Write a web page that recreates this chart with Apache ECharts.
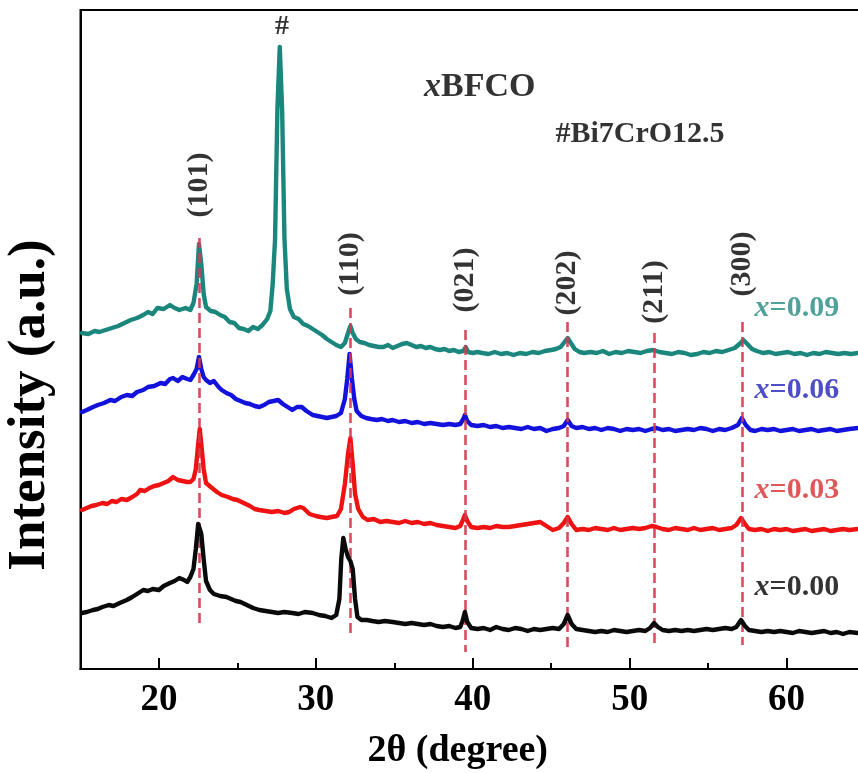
<!DOCTYPE html>
<html>
<head>
<meta charset="utf-8">
<script src="https://cdn.jsdelivr.net/npm/echarts@6/dist/echarts.min.js"></script>
<style>
html,body{margin:0;padding:0;background:#fff;}
#chart{width:858px;height:773px;}
</style>
</head>
<body>
<div id="chart"></div>
<script>
// ---- data: [2theta (degree), intensity (a.u., offset stacked)] ----
const sample009 = [[15.1,336],[15.5,335],[15.9,338],[16.2,337],[16.6,339],[17.0,341],[17.4,343],[17.8,346],[18.2,349],[18.6,351],[19.0,354],[19.3,357],[19.6,355],[19.9,361],[20.3,360],[20.7,364],[21.0,361],[21.3,359],[21.7,361],[22.0,359],[22.2,366],[22.4,385],[22.55,425],[22.7,405],[22.85,375],[23.0,362],[23.3,358],[23.6,357],[23.9,354],[24.2,352],[24.5,347],[24.8,346],[25.1,341],[25.4,340],[25.7,338],[26.0,342],[26.3,340],[26.6,344],[26.9,350],[27.1,358],[27.25,385],[27.4,430],[27.55,560],[27.7,622],[27.85,560],[28.0,430],[28.15,380],[28.35,360],[28.6,352],[28.9,350],[29.2,345],[29.5,343],[29.8,340],[30.1,337],[30.4,334],[30.7,330],[31.0,327],[31.3,324],[31.6,322],[31.85,326],[32.05,336],[32.2,343],[32.35,336],[32.55,330],[32.8,327],[33.1,326],[33.4,324],[33.7,323],[34.0,322],[34.3,322],[34.6,324],[34.9,321],[35.2,323],[35.5,325],[35.8,326],[36.1,324],[36.4,322],[36.7,323],[37.0,321],[37.3,322],[37.6,320],[37.9,319],[38.2,320],[38.5,318],[38.8,319],[39.1,317],[39.4,318],[39.55,322],[39.7,317],[40.0,316],[40.3,317],[40.6,316],[41.0,315],[41.4,317],[41.8,315],[42.2,316],[42.6,314],[43.0,316],[43.4,315],[43.8,317],[44.2,316],[44.6,318],[45.0,319],[45.3,320],[45.6,322],[45.85,327],[46.05,331],[46.25,326],[46.5,320],[46.8,317],[47.1,316],[47.5,317],[47.9,316],[48.3,318],[48.7,315],[49.1,317],[49.5,316],[49.9,318],[50.3,317],[50.7,316],[51.1,318],[51.5,319],[51.9,317],[52.3,316],[52.7,315],[53.1,317],[53.5,316],[53.9,314],[54.3,315],[54.7,317],[55.1,316],[55.5,318],[55.9,317],[56.3,319],[56.7,321],[57.0,325],[57.25,329],[57.5,325],[57.8,320],[58.1,318],[58.5,316],[58.9,317],[59.3,315],[59.7,316],[60.1,317],[60.5,315],[60.9,316],[61.3,314],[61.7,316],[62.1,315],[62.5,317],[62.9,316],[63.3,315],[63.7,316],[64.1,315],[64.6,316]];

const sample006 = [[15.1,257],[15.4,259],[15.8,262],[16.1,264],[16.5,266],[16.9,269],[17.2,268],[17.6,272],[17.95,274],[18.3,273],[18.6,277],[19.0,279],[19.3,282],[19.7,283],[20.1,286],[20.4,285],[20.7,290],[20.9,291],[21.2,288],[21.5,292],[21.8,290],[22.0,289],[22.2,294],[22.4,300],[22.55,312],[22.7,300],[22.85,292],[23.0,289],[23.25,286],[23.5,288],[23.8,282],[24.0,279],[24.3,276],[24.6,274],[24.9,270],[25.2,268],[25.5,266],[25.8,265],[26.1,263],[26.4,262],[26.7,264],[27.0,267],[27.3,268],[27.6,269],[27.9,265],[28.2,262],[28.5,259],[28.8,262],[29.1,262],[29.4,258],[29.8,254],[30.1,253],[30.4,252],[30.7,251],[31.0,252],[31.3,253],[31.6,256],[31.85,270],[32.0,290],[32.15,315],[32.3,290],[32.45,270],[32.6,258],[32.9,253],[33.2,251],[33.5,250],[33.9,249],[34.2,250],[34.6,248],[34.9,249],[35.3,247],[35.7,248],[36.1,246],[36.5,247],[36.9,245],[37.3,246],[37.7,245],[38.1,244],[38.5,245],[38.9,244],[39.2,245],[39.4,250],[39.5,254],[39.65,248],[39.9,244],[40.3,243],[40.7,244],[41.1,242],[41.5,243],[41.9,241],[42.3,242],[42.7,241],[43.1,240],[43.5,242],[43.9,240],[44.3,241],[44.7,238],[45.1,240],[45.5,241],[45.8,243],[46.05,249],[46.3,243],[46.6,241],[47.0,242],[47.4,240],[47.8,241],[48.2,239],[48.6,241],[49.0,240],[49.4,238],[49.8,240],[50.2,239],[50.6,240],[51.0,238],[51.4,240],[51.7,241],[52.1,239],[52.5,240],[52.9,238],[53.3,239],[53.7,240],[54.1,239],[54.5,241],[54.9,240],[55.3,238],[55.7,240],[56.1,239],[56.5,241],[56.9,244],[57.15,251],[57.4,244],[57.7,239],[58.0,238],[58.4,240],[58.8,239],[59.2,240],[59.6,238],[60.0,239],[60.4,240],[60.8,238],[61.2,239],[61.6,240],[62.0,238],[62.4,239],[62.8,240],[63.2,238],[63.6,239],[64.0,240],[64.6,241]];

const sample003 = [[15.1,159],[15.4,161],[15.7,163],[16.0,164],[16.4,166],[16.7,165],[17.0,168],[17.3,167],[17.6,170],[17.95,169],[18.3,172],[18.6,175],[18.8,179],[19.1,178],[19.4,181],[19.7,183],[20.0,184],[20.3,186],[20.6,188],[20.9,192],[21.2,189],[21.5,188],[21.8,187],[22.0,187],[22.2,190],[22.35,200],[22.5,225],[22.6,240],[22.7,225],[22.85,200],[23.0,186],[23.3,182],[23.7,177],[24.0,174],[24.4,172],[24.7,170],[25.0,169],[25.4,166],[25.8,163],[26.1,160],[26.4,159],[26.8,158],[27.2,157],[27.6,158],[28.0,156],[28.3,157],[28.6,160],[29.0,162],[29.2,161],[29.6,155],[30.0,153],[30.3,152],[30.7,151],[31.0,152],[31.35,153],[31.6,160],[31.85,185],[32.05,215],[32.2,231],[32.35,205],[32.5,175],[32.7,160],[33.0,152],[33.3,149],[33.7,150],[34.1,147],[34.5,148],[34.9,147],[35.3,146],[35.7,148],[36.1,146],[36.5,147],[36.9,145],[37.3,146],[37.7,144],[38.1,143],[38.5,142],[38.9,141],[39.2,143],[39.35,148],[39.5,154],[39.65,148],[39.9,142],[40.3,141],[40.7,142],[41.1,141],[41.5,143],[41.9,142],[42.3,142],[42.7,143],[43.1,144],[43.5,145],[43.9,146],[44.3,147],[44.7,143],[45.1,139],[45.5,141],[45.8,146],[46.05,152],[46.3,145],[46.6,139],[47.0,140],[47.4,139],[47.8,141],[48.2,140],[48.6,139],[49.0,141],[49.4,139],[49.8,140],[50.2,141],[50.6,140],[51.0,141],[51.4,143],[51.7,142],[52.1,140],[52.5,139],[52.9,141],[53.3,140],[53.7,139],[54.1,141],[54.5,139],[54.9,140],[55.3,141],[55.7,139],[56.1,140],[56.5,141],[56.8,144],[57.1,151],[57.35,145],[57.6,140],[58.0,139],[58.4,140],[58.8,138],[59.2,140],[59.6,139],[60.0,140],[60.4,138],[60.8,139],[61.2,140],[61.6,138],[62.0,139],[62.4,140],[62.8,138],[63.2,139],[63.6,140],[64.0,139],[64.6,140]];

const sample000 = [[15.1,56],[15.4,57],[15.8,59],[16.1,60],[16.4,62],[16.8,64],[17.1,63],[17.5,66],[17.95,69],[18.3,72],[18.6,75],[19.0,79],[19.3,78],[19.6,80],[20.0,79],[20.3,83],[20.7,86],[21.0,88],[21.3,91],[21.6,89],[21.8,87],[22.0,92],[22.2,100],[22.35,120],[22.5,145],[22.6,147],[22.7,135],[22.85,110],[23.0,88],[23.25,79],[23.5,75],[23.9,73],[24.3,72],[24.6,70],[24.9,68],[25.2,67],[25.6,64],[26.0,61],[26.4,59],[26.8,58],[27.2,57],[27.6,56],[28.0,57],[28.5,56],[28.9,55],[29.3,57],[29.8,56],[30.2,54],[30.6,53],[31.0,51],[31.3,54],[31.5,70],[31.62,110],[31.75,131],[31.9,120],[32.05,112],[32.2,108],[32.35,100],[32.5,70],[32.65,52],[32.9,49],[33.25,49],[33.6,48],[34.0,47],[34.4,48],[34.9,47],[35.3,46],[35.7,45],[36.1,46],[36.5,45],[36.9,44],[37.3,45],[37.7,43],[38.1,42],[38.5,43],[38.9,41],[39.2,42],[39.35,48],[39.5,57],[39.65,47],[39.9,41],[40.3,40],[40.7,41],[41.1,39],[41.5,42],[41.9,40],[42.3,39],[42.7,41],[43.1,40],[43.5,38],[43.9,40],[44.3,39],[44.7,40],[45.1,41],[45.5,40],[45.8,45],[46.05,54],[46.3,45],[46.6,40],[47.0,39],[47.4,38],[47.8,37],[48.2,38],[48.6,37],[49.0,39],[49.4,38],[49.8,37],[50.2,38],[50.6,39],[51.0,38],[51.3,41],[51.55,46],[51.8,42],[52.1,39],[52.5,38],[52.9,39],[53.3,38],[53.7,39],[54.1,38],[54.5,39],[54.9,40],[55.3,39],[55.7,40],[56.1,41],[56.5,40],[56.8,42],[57.1,49],[57.35,43],[57.6,39],[58.0,38],[58.4,37],[58.8,38],[59.2,37],[59.6,38],[60.0,37],[60.4,36],[60.8,38],[61.2,37],[61.6,36],[62.0,37],[62.4,38],[62.8,36],[63.2,37],[63.6,35],[64.0,37],[64.6,36]];

// reflection markers
const peakPos    = [22.6, 32.2, 39.5, 46.05, 51.55, 57.15];
const peakNames  = ['(101)', '(110)', '(021)', '(202)', '(211)', '(300)'];
const dashTop    = [431, 361, 339, 347, 336, 347];
const dashBottom = [41, 34, 17, 21, 24, 24];
const nameLevel  = [484, 405, 389, 386, 377, 405];

// secondary phase marker
const impurityPos = [27.84, 642];

// sample labels
const sampleNames = ['0.09', '0.06', '0.03', '0.00'];
const sampleLevel = [361, 279, 179, 82];
const sampleLabelX = 60.66;

// x-axis ticks
const majorTicks = [20, 30, 40, 50, 60];
const minorTicks = [25, 35, 45, 55];

const FONT = '"Liberation Serif", "Times New Roman", "DejaVu Serif", serif';
const colors = ['#1b877c', '#1212dc', '#ee1212', '#0a0a0a'];
const labelColors = ['#238a80', '#2222b8', '#d43030', '#000000'];
const dashColor = '#d43a4f';

const chart = echarts.init(document.getElementById('chart'), null, {renderer: 'canvas'});

const curves = [sample009, sample006, sample003, sample000];
const lineSeries = curves.map((d, i) => ({
  type: 'line',
  name: 'x=' + sampleNames[i],
  data: d,
  showSymbol: false,
  symbol: 'none',
  smooth: false,
  lineStyle: {color: colors[i], width: 4.4, join: 'round', cap: 'round'},
  z: 2 + i,
  silent: true
}));

const option = {
  animation: false,
  backgroundColor: '#ffffff',
  grid: {left: 80.5, right: -7, top: 10, bottom: 104, outerBoundsMode: 'none', containLabel: false,
    show: true, borderColor: '#000', borderWidth: 2, backgroundColor: 'transparent'},
  xAxis: [{
    type: 'value', min: 15, max: 65,
    name: '2θ (degree)', nameLocation: 'middle', nameGap: 63,
    nameTextStyle: {fontFamily: FONT, fontWeight: 'bold', fontSize: 38, color: '#000', padding: [0, 30, 0, 0]},
    axisLine: {show: true, lineStyle: {color: '#000', width: 2}},
    axisTick: {show: true, inside: true, length: 11, lineStyle: {color: '#000', width: 2}, customValues: majorTicks},
    axisLabel: {show: true, customValues: majorTicks, margin: 13, fontFamily: FONT, fontWeight: 'bold', fontSize: 37, color: '#000'},
    splitLine: {show: false}
  }, {
    type: 'value', min: 15, max: 65, position: 'bottom',
    axisLine: {show: false},
    axisTick: {show: true, inside: true, length: 6, lineStyle: {color: '#000', width: 2}, customValues: minorTicks},
    axisLabel: {show: false},
    splitLine: {show: false}
  }],
  yAxis: {
    type: 'value', min: 0, max: 659,
    name: 'Intensity (a.u.)', nameLocation: 'middle', nameGap: 24, nameRotate: 90,
    nameTextStyle: {fontFamily: FONT, fontWeight: 'bold', fontSize: 53, color: '#000', padding: [0, 131, 0, 0]},
    axisLine: {show: true, lineStyle: {color: '#000', width: 2}},
    axisTick: {show: false},
    axisLabel: {show: false},
    splitLine: {show: false}
  },
  series: [
    ...lineSeries,
    {
      type: 'line', name: 'reflections', data: [], symbol: 'none', silent: true, z: 10,
      markLine: {
        silent: true, symbol: ['none', 'none'], animation: false,
        label: {show: false},
        lineStyle: {color: dashColor, width: 2.6, type: [10, 5], opacity: 0.9},
        data: peakPos.map((p, i) => [{coord: [p, dashTop[i]]}, {coord: [p, dashBottom[i]]}])
      }
    },
    {
      type: 'scatter', name: 'hkl', symbolSize: 0, silent: true, z: 12,
      data: peakPos.map((p, i) => [p, nameLevel[i], peakNames[i]]),
      label: {show: true, position: 'inside', rotate: 90, formatter: p => p.data[2],
        fontFamily: FONT, fontWeight: 'bold', fontSize: 30, color: '#000'}
    },
    {
      type: 'scatter', name: 'impurity', symbolSize: 0, silent: true, z: 12,
      data: [[impurityPos[0], impurityPos[1], '#']],
      label: {show: true, position: 'inside', formatter: p => p.data[2],
        fontFamily: FONT, fontWeight: 'bold', fontSize: 28, color: '#000'}
    },
    {
      type: 'scatter', name: 'samples', symbolSize: 0, silent: true, z: 12,
      data: sampleNames.map((s, i) => ({value: [sampleLabelX, sampleLevel[i]], txt: s,
        label: {color: labelColors[i], rich: {i: {fontStyle: 'italic', fontFamily: FONT, fontWeight: 'bold', fontSize: 30, color: labelColors[i]}, n: {fontFamily: FONT, fontWeight: 'bold', fontSize: 30, color: labelColors[i]}}}})),
      label: {show: true, position: 'inside', formatter: p => '{i|x}{n|=' + p.data.txt + '}',
        fontFamily: FONT, fontWeight: 'bold', fontSize: 30}
    },
    {
      type: 'scatter', name: 'titles', symbolSize: 0, silent: true, z: 12,
      data: [
        {value: [40.45, 582], fmt: '{i|x}{n|BFCO}', fs: 34},
        {value: [50.66, 535], fmt: '{n|#Bi7CrO12.5}', fs: 30}
      ].map(d => ({value: d.value, fmt: d.fmt, label: {rich: {
        i: {fontStyle: 'italic', fontFamily: FONT, fontWeight: 'bold', fontSize: d.fs, color: '#000'},
        n: {fontFamily: FONT, fontWeight: 'bold', fontSize: d.fs, color: '#000'}}}})),
      label: {show: true, position: 'inside', formatter: p => p.data.fmt, color: '#000'}
    }
  ]
};
chart.setOption(option);
</script>
</body>
</html>
